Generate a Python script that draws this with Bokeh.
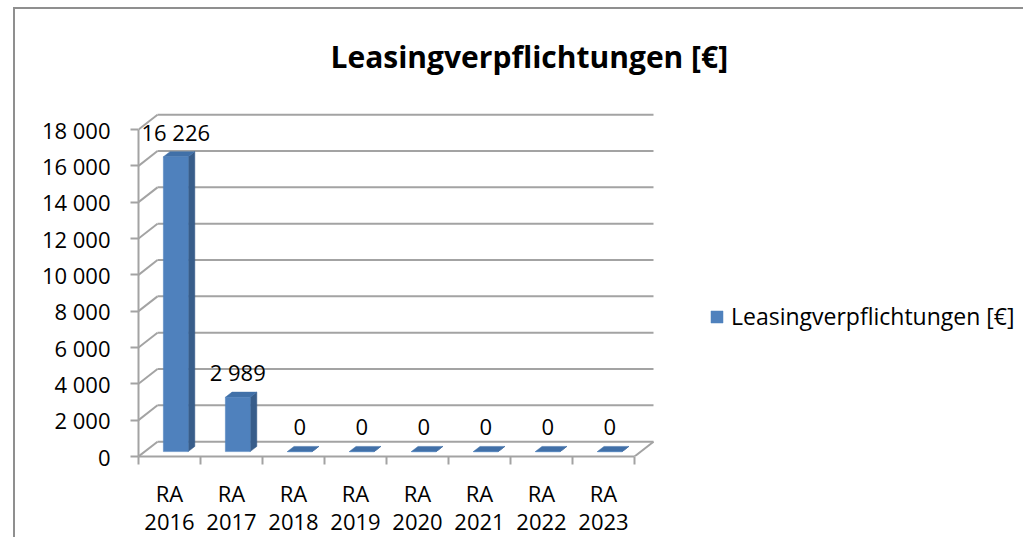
from bokeh.plotting import figure
from bokeh.models import (Range1d, FixedTicker, ColumnDataSource, Legend,
                          LegendItem, LabelSet)
from bokeh.core.properties import value
from bokeh.embed import file_html
from bokeh.resources import INLINE

# ---------------- data ----------------
categories = ["RA\n2016", "RA\n2017", "RA\n2018", "RA\n2019",
              "RA\n2020", "RA\n2021", "RA\n2022", "RA\n2023"]
values = [16226, 2989, 0, 0, 0, 0, 0, 0]
y_ticks = [0, 2000, 4000, 6000, 8000, 10000, 12000, 14000, 16000, 18000]
series_name = "Leasingverpflichtungen [€]"
chart_title = "Leasingverpflichtungen [€]"

# ---------------- styling / geometry ----------------
W, H = 1010, 530
FRAME_L, FRAME_T, FRAME_B, FRAME_R = 123, 91, 79, 0
PX_PER_CAT = 62.0
PX_PER_VAL = 36.74 / 2000.0
frame_w = W - FRAME_L - FRAME_R
frame_h = H - FRAME_T - FRAME_B
DX = 19.0 / PX_PER_CAT          # depth offset (category units)
DY = 15.0 / PX_PER_VAL          # depth offset (value units)
BAR_W = 0.40
F0, F1 = 0.33, 0.68
FONT = "Open Sans"
FS = "22px"
GRID = "#a3a3a3"
FRONT = "#4F81BD"
SIDE = "#385D8A"
TOP = "#4170A8"

n = len(categories)
ymax = y_ticks[-1]

p = figure(width=W, height=H, output_backend="svg", toolbar_location=None,
           x_range=Range1d(0, frame_w / PX_PER_CAT),
           y_range=Range1d(0, frame_h / PX_PER_VAL),
           min_border_left=FRAME_L, min_border_right=FRAME_R,
           min_border_top=FRAME_T, min_border_bottom=FRAME_B,
           border_fill_color="#ffffff", background_fill_color="#ffffff")
p.outline_line_color = None
p.xgrid.visible = False
p.ygrid.visible = False
p.styles = {"position": "absolute", "left": "15px", "top": "9px",
            "box-shadow": "-2px -2px 0px 0px #8f8f8f"}

# title
p.title.text = chart_title
p.title.text_font = FONT
p.title.text_font_size = "30px"
p.title.text_font_style = "bold"
p.title.text_color = "#000000"
p.title.align = "left"
p.title.offset = 192
p.title.standoff = 48
p.title.text_line_height = 0.8

# ---------------- walls / gridlines ----------------
p.segment(x0=[DX] * len(y_ticks), y0=[t + DY for t in y_ticks],
          x1=[n + DX] * len(y_ticks), y1=[t + DY for t in y_ticks],
          line_color=GRID, line_width=2)
p.segment(x0=[0] * len(y_ticks), y0=y_ticks,
          x1=[DX] * len(y_ticks), y1=[t + DY for t in y_ticks],
          line_color=GRID, line_width=2)
p.segment(x0=[n], y0=[0], x1=[n + DX], y1=[DY], line_color=GRID, line_width=2)

# ---------------- bars ----------------
centers = [i + 0.5 for i in range(n)]
xl0 = [c - BAR_W / 2 + F0 * DX for c in centers]
xr0 = [c + BAR_W / 2 + F0 * DX for c in centers]
xl1 = [c - BAR_W / 2 + F1 * DX for c in centers]
xr1 = [c + BAR_W / 2 + F1 * DX for c in centers]
yb0 = F0 * DY
yb1 = F1 * DY

side_xs = [[xr0[i], xr1[i], xr1[i], xr0[i]] for i in range(n)]
side_ys = [[yb0, yb1, values[i] + yb1, values[i] + yb0] for i in range(n)]
top_xs = [[xl0[i], xr0[i], xr1[i], xl1[i]] for i in range(n)]
top_ys = [[values[i] + yb0, values[i] + yb0, values[i] + yb1, values[i] + yb1] for i in range(n)]

p.patches(xs=side_xs, ys=side_ys, fill_color=SIDE, line_color=SIDE, line_width=0.5)
p.patches(xs=top_xs, ys=top_ys, fill_color=TOP, line_color=TOP, line_width=0.5)
front = p.quad(left=xl0, right=xr0, bottom=[yb0] * n, top=[v + yb0 for v in values],
               fill_color=FRONT, line_color=FRONT, line_width=0.5)

# value labels
lab_src = ColumnDataSource(dict(
    x=[c + F0 * DX for c in centers],
    y=[v + yb0 for v in values],
    t=[f"{v:,}".replace(",", " ") for v in values]))
p.add_layout(LabelSet(x="x", y="y", text="t", source=lab_src, text_align="center",
                      text_baseline="middle", y_offset=25, text_font=value(FONT),
                      text_font_size=value(FS), text_color="#000000"))

# ---------------- axes ----------------
ya = p.yaxis[0]
ya.ticker = FixedTicker(ticks=y_ticks, minor_ticks=[])
ya.major_label_overrides = {t: f"{t:,}".replace(",", " ") for t in y_ticks}
ya.bounds = (0, ymax)
ya.axis_line_color = GRID
ya.axis_line_width = 2
ya.major_tick_line_color = GRID
ya.major_tick_line_width = 2
ya.major_tick_in = 0
ya.major_tick_out = 8
ya.minor_tick_line_color = None
ya.major_label_standoff = 20
ya.major_label_text_font = FONT
ya.major_label_text_font_size = FS
ya.major_label_text_color = "#000000"

xa = p.xaxis[0]
xa.ticker = FixedTicker(ticks=centers, minor_ticks=list(range(n + 1)))
xa.major_label_overrides = {c: categories[i] for i, c in enumerate(centers)}
xa.bounds = (0, n)
xa.axis_line_color = GRID
xa.axis_line_width = 2
xa.major_tick_line_color = None
xa.minor_tick_line_color = GRID
xa.minor_tick_line_width = 2
xa.minor_tick_in = 0
xa.minor_tick_out = 8
xa.major_tick_out = 8
xa.major_label_standoff = 13
xa.major_label_text_font = FONT
xa.major_label_text_font_size = FS
xa.major_label_text_color = "#000000"
xa.major_label_text_line_height = 0.95

# ---------------- legend ----------------
legend = Legend(items=[LegendItem(label=series_name, renderers=[front])],
                location=(571, 124), border_line_color=None,
                background_fill_alpha=0, padding=0, margin=0,
                glyph_width=15, glyph_height=15, label_standoff=7,
                label_text_font=FONT, label_text_font_size="23px",
                label_text_color="#000000", spacing=0)
p.add_layout(legend)

open("out.html", "w", encoding="utf-8").write(file_html(p, INLINE))
